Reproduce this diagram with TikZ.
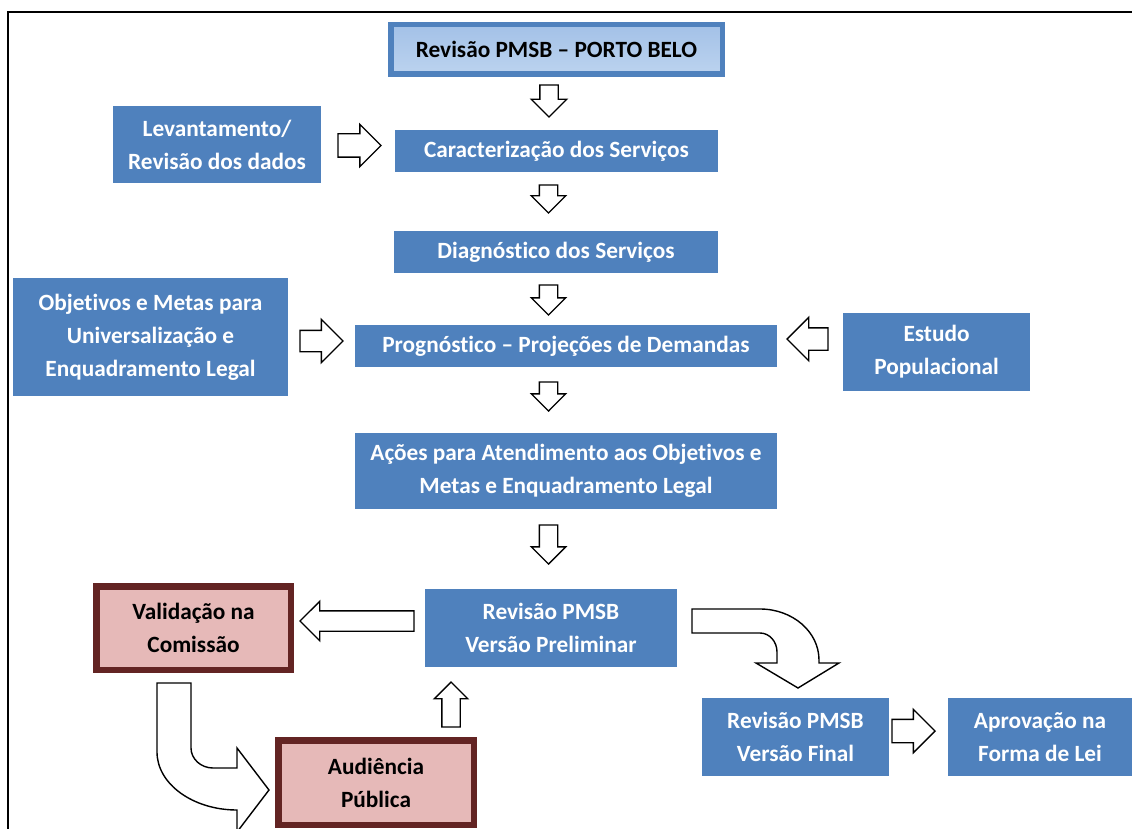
\documentclass[tikz,border=0pt]{standalone}
\usepackage{fontspec}
\setmainfont{Carlito}[Ligatures=NoCommon]
\usetikzlibrary{shapes.arrows}
\definecolor{bluebox}{HTML}{4F81BD}
\definecolor{pinkfill}{HTML}{E6B9B8}
\definecolor{pinkline}{HTML}{632423}
\definecolor{topA}{HTML}{A3C1E7}
\definecolor{topB}{HTML}{BCD3EF}
\begin{document}
\begin{tikzpicture}[x=1pt,y=-1pt,
  every node/.style={font=\fontsize{23.3}{33}\selectfont\bfseries, align=center, inner sep=0pt, outer sep=0pt},
  bbox/.style={fill=bluebox, text=white},
  pbox/.style={fill=pinkfill, draw=pinkline, line width=6.5pt, text=black},
  tbox/.style={top color=topA, bottom color=topB, draw=bluebox, line width=5.5pt, text=black},
  barrow/.style={single arrow, draw=black, fill=white, line width=1.4pt, single arrow tip angle=90, single arrow head indent=0pt, inner xsep=0pt},
  curvarrow/.style={draw=black, fill=white, line width=1.4pt, line join=miter}
]
\useasboundingbox (0,0) rectangle (1132,829);
\draw[line width=2pt] (8,829) -- (8,12) -- (1132,12);

% boxes
\node[tbox, minimum width=331.5pt, minimum height=49.5pt] (top) at (556.5,49.5) {Revisão PMSB – PORTO BELO};
\node[bbox, minimum width=208pt, minimum height=77pt] (lev) at (217,144.5) {Levantamento/\\Revisão dos dados};
\node[bbox, minimum width=323pt, minimum height=42pt] (car) at (556.5,151) {Caracterização dos Serviços};
\node[bbox, minimum width=324pt, minimum height=42pt] (diag) at (556,252) {Diagnóstico dos Serviços};
\node[bbox, minimum width=275pt, minimum height=118pt] (obj) at (150.5,337) {Objetivos e Metas para\\Universalização e\\Enquadramento Legal};
\node[bbox, minimum width=422pt, minimum height=42pt] (prog) at (566,346) {Prognóstico – Projeções de Demandas};
\node[bbox, minimum width=187pt, minimum height=78pt] (est) at (936.5,352) {Estudo\\Populacional};
\node[bbox, minimum width=422pt, minimum height=76pt] (acoes) at (566,471) {Ações para Atendimento aos Objetivos e\\Metas e Enquadramento Legal};
\node[bbox, minimum width=252pt, minimum height=78pt] (prel) at (551,628) {Revisão PMSB\\Versão Preliminar};
\node[pbox, minimum width=194.5pt, minimum height=83.5pt] (val) at (193.5,628) {Validação na\\Comissão};
\node[pbox, minimum width=195.5pt, minimum height=84.5pt] (aud) at (376,782.5) {Audiência\\Pública};
\node[bbox, minimum width=187pt, minimum height=78pt] (fin) at (795.5,737) {Revisão PMSB\\Versão Final};
\node[bbox, minimum width=184pt, minimum height=78pt] (apr) at (1040,737) {Aprovação na\\Forma de Lei};

% block arrows (inner ysep = half shaft width)
\node[barrow, rotate=-90, anchor=tail, minimum height=32pt, inner ysep=8.5pt, single arrow head extend=8.5pt] (a1) at (549,85) {};
\node[barrow, rotate=-90, anchor=tail, minimum height=28pt, inner ysep=8.5pt, single arrow head extend=8pt] (a2) at (548.5,185) {};
\node[barrow, rotate=-90, anchor=tail, minimum height=30pt, inner ysep=8.5pt, single arrow head extend=8pt] (a3) at (548.5,285) {};
\node[barrow, rotate=-90, anchor=tail, minimum height=29pt, inner ysep=8.5pt, single arrow head extend=8pt] (a4) at (548.5,382) {};
\node[barrow, rotate=-90, anchor=tail, minimum height=39pt, inner ysep=8.5pt, single arrow head extend=8pt] (a5) at (548.5,525) {};
\node[barrow, anchor=tail, minimum height=43pt, inner ysep=11pt, single arrow head extend=9.5pt] (a6) at (338,145.5) {};
\node[barrow, anchor=tail, minimum height=43pt, inner ysep=10pt, single arrow head extend=11pt] (a7) at (300,341) {};
\node[barrow, rotate=180, anchor=tail, minimum height=41pt, inner ysep=10.5pt, single arrow head extend=10.5pt] (a8) at (828,339) {};
\node[barrow, rotate=180, anchor=tail, minimum height=114pt, inner ysep=9.5pt, single arrow head extend=9.5pt] (a9) at (414,621) {};
\node[barrow, rotate=90, anchor=tail, minimum height=45pt, inner ysep=8.5pt, single arrow head extend=7.5pt] (a10) at (451,727) {};
\node[barrow, anchor=tail, minimum height=43pt, inner ysep=11pt, single arrow head extend=10pt] (a11) at (892,731) {};

% curved arrow: preliminar -> final
\draw[curvarrow] (692,609) -- (760,609) .. controls (792.6,609) and (819,631.8) .. (819,660)
  -- (819,663) -- (839,663) -- (798,688) -- (756,663) -- (777,663) -- (777,652)
  .. controls (777,641.5) and (769.4,633) .. (760,633) -- (692,633) -- cycle;

% curved arrow: validacao -> audiencia
\draw[curvarrow] (157,683) -- (191,683) -- (191,748) .. controls (191,759) and (201,768) .. (213,768)
  -- (237,768) -- (237,748) -- (269,790) -- (237,832) -- (237,810)
  .. controls (193,810) and (157,784) .. (157,752) -- cycle;
\end{tikzpicture}
\end{document}
